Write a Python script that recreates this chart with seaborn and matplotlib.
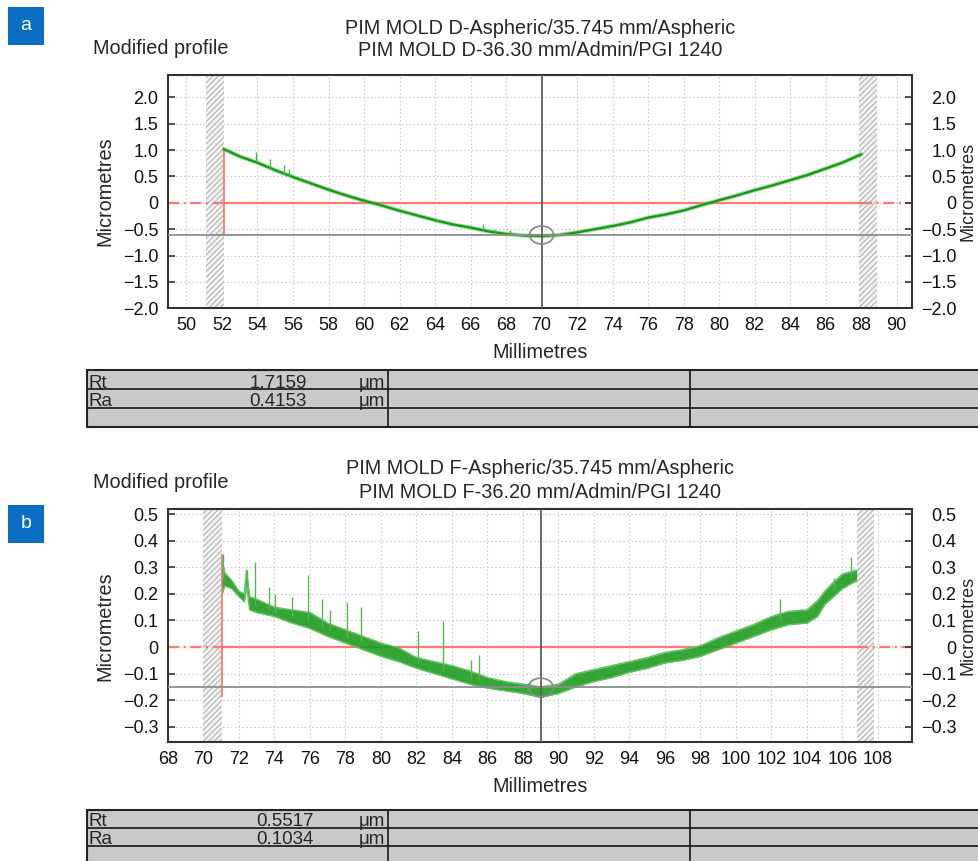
import numpy as np
import pandas as pd
import matplotlib
matplotlib.use("Agg")
import matplotlib.pyplot as plt
from matplotlib.patches import Ellipse, Rectangle
import seaborn as sns

# ---------------- panel a : PIM MOLD D ----------------
a_title = ["PIM MOLD D-Aspheric/35.745 mm/Aspheric",
           "PIM MOLD D-36.30 mm/Admin/PGI 1240"]
a_x = [52.1, 53, 54, 55, 56, 57, 58, 59, 60, 61, 62, 63, 64, 65, 66, 67, 68, 69,
       70, 71, 72, 73, 74, 75, 76, 77, 78, 79, 80, 81, 82, 83, 84, 85, 86, 87, 88]
a_y = [1.02, 0.88, 0.76, 0.62, 0.49, 0.37, 0.25, 0.14, 0.04, -0.05, -0.15, -0.24,
       -0.33, -0.41, -0.47, -0.54, -0.59, -0.62, -0.63, -0.61, -0.56, -0.50, -0.44,
       -0.37, -0.28, -0.22, -0.145, -0.045, 0.05, 0.14, 0.24, 0.33, 0.43, 0.53,
       0.65, 0.77, 0.92]
a_spike_x = [53.9, 54.7, 55.5, 55.8, 64.1, 66.7, 67.3, 68.2]
a_spike_y = [0.97, 0.83, 0.72, 0.65, -0.30, -0.40, -0.50, -0.52]
a_xticks = [50, 52, 54, 56, 58, 60, 62, 64, 66, 68, 70, 72, 74, 76, 78, 80, 82, 84, 86, 88, 90]
a_yticks = [-2.0, -1.5, -1.0, -0.5, 0.0, 0.5, 1.0, 1.5, 2.0]
a_ylabels = ["\u22122.0", "\u22121.5", "\u22121.0", "\u22120.5", "0", "0.5", "1.0", "1.5", "2.0"]
a_minline = -0.61
a_centre = 70.0
a_redbar = (-0.61, 1.02)
a_hatch = [(51.1, 52.1), (87.9, 88.9)]
a_stat_names = ["Rt", "Ra"]
a_stat_vals = ["1.7159", "0.4153"]

# ---------------- panel b : PIM MOLD F ----------------
b_title = ["PIM MOLD F-Aspheric/35.745 mm/Aspheric",
           "PIM MOLD F-36.20 mm/Admin/PGI 1240"]
b_x = [71.05, 71.2, 71.6, 72.0, 72.3, 72.42, 72.6, 73, 74, 75, 76, 77, 78, 79, 80,
       81, 82, 83, 84, 85, 86, 87, 88, 89, 90, 91, 92, 93, 94, 95, 96, 97, 98, 99,
       100, 101, 102, 103, 104, 104.6, 105, 105.5, 106, 106.8]
b_lo = [0.20, 0.23, 0.22, 0.19, 0.17, 0.23, 0.14, 0.13, 0.115, 0.09, 0.07, 0.04,
        0.015, -0.01, -0.035, -0.055, -0.08, -0.10, -0.12, -0.14, -0.155, -0.165,
        -0.175, -0.19, -0.175, -0.15, -0.13, -0.115, -0.095, -0.08, -0.06, -0.05,
        -0.035, -0.01, 0.015, 0.04, 0.065, 0.085, 0.09, 0.115, 0.16, 0.19, 0.22, 0.25]
b_hi = [0.33, 0.28, 0.25, 0.21, 0.20, 0.29, 0.19, 0.18, 0.15, 0.14, 0.13, 0.09,
        0.065, 0.04, 0.015, -0.003, -0.04, -0.055, -0.07, -0.09, -0.115, -0.13,
        -0.14, -0.15, -0.14, -0.10, -0.085, -0.07, -0.055, -0.04, -0.02, -0.01,
        0.005, 0.035, 0.06, 0.085, 0.115, 0.135, 0.14, 0.175, 0.21, 0.245, 0.275, 0.29]
b_spike_x = [71.1, 72.45, 72.9, 73.7, 74.05, 75.0, 75.9, 76.7, 77.1, 78.1, 78.9,
             82.1, 83.5, 85.1, 85.5, 88.4, 102.5, 105.5, 106.5]
b_spike_y = [0.35, 0.29, 0.32, 0.225, 0.20, 0.19, 0.27, 0.18, 0.14, 0.17, 0.15,
             0.06, 0.097, -0.047, -0.03, -0.13, 0.18, 0.26, 0.34]
b_xticks = [68, 70, 72, 74, 76, 78, 80, 82, 84, 86, 88, 90, 92, 94, 96, 98, 100,
            102, 104, 106, 108]
b_yticks = [-0.3, -0.2, -0.1, 0.0, 0.1, 0.2, 0.3, 0.4, 0.5]
b_ylabels = ["\u22120.3", "\u22120.2", "\u22120.1", "0", "0.1", "0.2", "0.3", "0.4", "0.5"]
b_minline = -0.152
b_centre = 89.0
b_redbar = (-0.19, 0.35)
b_hatch = [(70.0, 71.05), (106.8, 107.8)]
b_stat_names = ["Rt", "Ra"]
b_stat_vals = ["0.5517", "0.1034"]

W, H = 979, 861
sns.set_style("white")
plt.rcParams["font.family"] = ["Liberation Sans", "DejaVu Sans"]
plt.rcParams["hatch.linewidth"] = 0.7
plt.rcParams["axes.unicode_minus"] = True

fig = plt.figure(figsize=(W / 100, H / 100), dpi=100)

GREEN = "#179a17"
RED = "#ff7777"
SPINE = "#3a3030"
TICK_FS = 13


def px_axes(left, top, right, bottom):
    return fig.add_axes([left / W, 1 - bottom / H, (right - left) / W, (bottom - top) / H])


def style_axes(ax, xlim, ylim, xticks, yticks, ylabels):
    ax.set_xlim(*xlim)
    ax.set_ylim(*ylim)
    ax.set_xticks(xticks)
    ax.set_xticklabels([str(t) for t in xticks])
    ax.set_yticks(yticks)
    ax.set_yticklabels(ylabels)
    ax.grid(True, color="#cdcdcd", linestyle=(0, (1.5, 2)), linewidth=0.8)
    ax.set_axisbelow(True)
    for s in ax.spines.values():
        s.set_color(SPINE)
        s.set_linewidth(1.5)
    ax.tick_params(axis="both", direction="in", length=5, width=1.2, color=SPINE,
                   labelsize=TICK_FS, labelcolor="#111111")
    ax.tick_params(axis="x", pad=6)
    ax.tick_params(axis="y", pad=7)
    twin = ax.twinx()
    twin.set_ylim(*ylim)
    twin.set_yticks(yticks)
    twin.set_yticklabels(ylabels)
    twin.tick_params(axis="y", direction="in", length=5, width=1.2, color=SPINE,
                     labelsize=TICK_FS, labelcolor="#111111", pad=32)
    for lab in twin.get_yticklabels():
        lab.set_horizontalalignment("right")
    for s in twin.spines.values():
        s.set_visible(False)
    twin.grid(False)


def draw_overlays(ax, xlim, x0, x1, minline, centre, redbar, hatches, ell_w, ell_h):
    for h0, h1 in hatches:
        ax.axvspan(h0, h1, facecolor="#f2f2f2", edgecolor="#a9a9a9", hatch="//////",
                   linewidth=0, zorder=1)
    ax.hlines(0, x0, x1, color=RED, lw=1.6, zorder=2)
    ax.hlines(0, xlim[0], x0, color=RED, lw=1.6, linestyle=(0, (5, 2, 1, 2)), zorder=2)
    ax.hlines(0, x1, xlim[1], color=RED, lw=1.6, linestyle=(0, (5, 2, 1, 2)), zorder=2)
    ax.vlines(x0, redbar[0], redbar[1], color=RED, lw=1.3, zorder=2)
    ax.axhline(minline, color="#8e8e8e", lw=1.3, zorder=4)
    ax.axvline(centre, color="#5e5e5e", lw=1.3, zorder=4)
    ax.add_patch(Ellipse((centre, minline), ell_w, ell_h, fill=False,
                         edgecolor="#888888", lw=1.2, zorder=5))


# ---------------- top panel ----------------
a_xlim = (48.96, 90.86)
ax_a = px_axes(168, 74.7, 912, 308.3)
style_axes(ax_a, a_xlim, (-2.0, 2.43), a_xticks, a_yticks, a_ylabels)
draw_overlays(ax_a, a_xlim, a_x[0], a_x[-1], a_minline, a_centre, a_redbar,
              a_hatch, 1.35, 0.34)
sns.lineplot(x=a_x, y=a_y, ax=ax_a, color="#5cc45c", lw=3.2, alpha=0.5,
             errorbar=None, sort=False, zorder=3)
sns.lineplot(x=a_x, y=a_y, ax=ax_a, color=GREEN, lw=1.7, errorbar=None,
             sort=False, zorder=3)
a_base = np.interp(a_spike_x, a_x, a_y)
ax_a.vlines(a_spike_x, a_base, a_spike_y, color="#4cb84c", lw=1.0, zorder=3)

# ---------------- bottom panel ----------------
b_xlim = (68.0, 109.92)
ax_b = px_axes(168, 509.3, 912, 742.3)
style_axes(ax_b, b_xlim, (-0.359, 0.519), b_xticks, b_yticks, b_ylabels)
draw_overlays(ax_b, b_xlim, b_x[0], b_x[-1], b_minline, b_centre, b_redbar,
              b_hatch, 1.4, 0.069)
band = pd.DataFrame({"x": b_x, "lo": b_lo, "hi": b_hi})
band["mid"] = (band["lo"] + band["hi"]) / 2
ax_b.fill_between(band["x"], band["lo"], band["hi"], color="#1f9d1f", alpha=0.9,
                  linewidth=0, zorder=3)
sns.lineplot(data=band, x="x", y="lo", ax=ax_b, color="#62c262", lw=1.0,
             errorbar=None, sort=False, zorder=3)
sns.lineplot(data=band, x="x", y="hi", ax=ax_b, color="#62c262", lw=1.0,
             errorbar=None, sort=False, zorder=3)
b_base = np.interp(b_spike_x, band["x"], band["mid"])
ax_b.vlines(b_spike_x, b_base, b_spike_y, color="#52b852", lw=1.0, zorder=3)
for a in (ax_a, ax_b):
    a.set_xlabel("")
    a.set_ylabel("")

# ---------------- text, tables, panel tags ----------------
ov = fig.add_axes([0, 0, 1, 1], zorder=10)
ov.set_xlim(0, W)
ov.set_ylim(H, 0)
ov.axis("off")
ov.patch.set_visible(False)

TXT_FS = 14.3


def panel_text(tag, tag_top, title, title_y, mp_y, ax_top, ax_bot, xl_y):
    ov.add_patch(Rectangle((8, tag_top), 36, 38, facecolor="#0a6fc2", edgecolor="none"))
    ov.text(26, tag_top + 18, tag, color="white", fontsize=14, ha="center", va="center")
    ov.text(540, title_y[0], title[0], fontsize=TXT_FS, ha="center", va="center")
    ov.text(540, title_y[1], title[1], fontsize=TXT_FS, ha="center", va="center")
    ov.text(93, mp_y, "Modified profile", fontsize=TXT_FS, ha="left", va="center")
    mid = (ax_top + ax_bot) / 2
    ov.text(105, mid, "Micrometres", fontsize=TXT_FS, rotation=90, ha="center", va="center")
    ov.text(960, mid, "Micrometres", fontsize=13, rotation=90, ha="left", va="center")
    ov.text(540, xl_y, "Millimetres", fontsize=TXT_FS, ha="center", va="center")


def draw_table(top, row_h, names, vals, val_right, fs):
    ov.add_patch(Rectangle((87, top), 990 - 87, 3 * row_h, facecolor="#c9c9c9",
                           edgecolor="#222222", lw=1.5))
    for k in (1, 2):
        ov.plot([87, 990], [top + k * row_h] * 2, color="#222222", lw=1.3)
    for cx in (388.5, 690.5):
        ov.plot([cx, cx], [top, top + 3 * row_h], color="#222222", lw=1.3)
    for i, (n, v) in enumerate(zip(names, vals)):
        base = top + (i + 1) * row_h - 1.5
        ov.text(89, base, n, fontsize=fs, ha="left", va="baseline")
        ov.text(val_right, base, v, fontsize=fs, ha="right", va="baseline")
        ov.text(359, base, "\u03bcm", fontsize=fs, ha="left", va="baseline")


panel_text("a", 7, a_title, (29, 50), 49, 74.7, 308.3, 353)
panel_text("b", 505, b_title, (469, 493), 483, 509.3, 742.3, 787)
draw_table(370, 19, a_stat_names, a_stat_vals, 307, 13.5)
draw_table(810, 18, b_stat_names, b_stat_vals, 314, 13.5)

fig.savefig("out.png", dpi=100)
